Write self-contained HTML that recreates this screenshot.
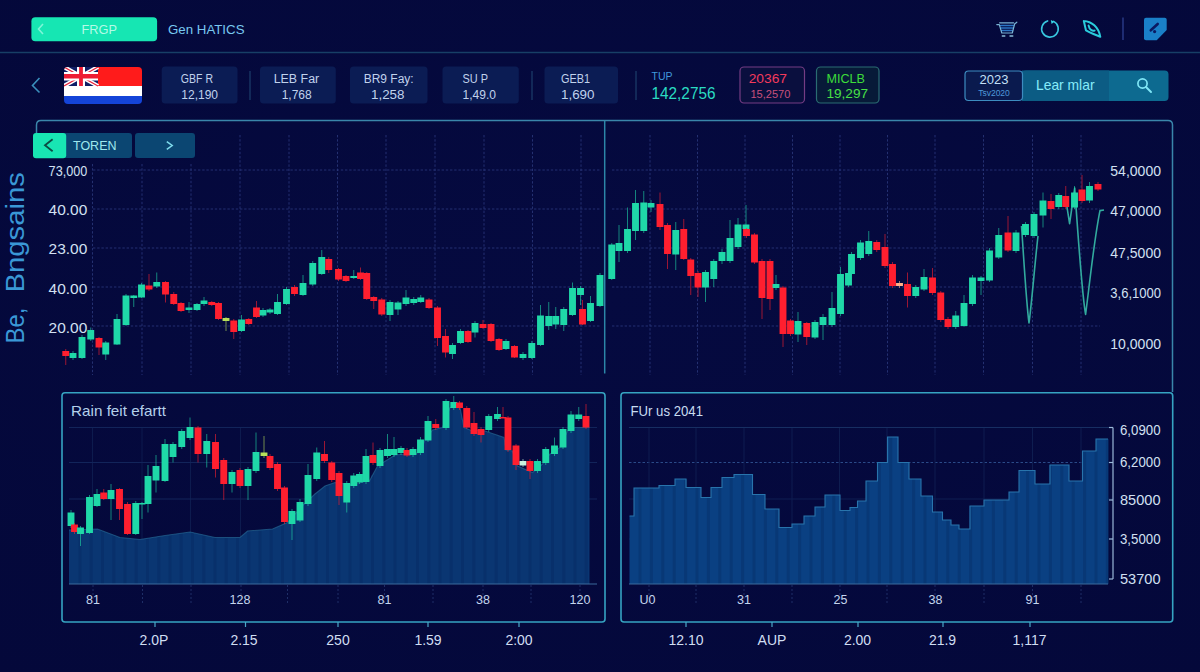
<!DOCTYPE html>
<html><head><meta charset="utf-8"><title>Trading dashboard</title>
<style>
html,body{margin:0;padding:0;background:#050a3e;}
body{width:1200px;height:672px;overflow:hidden;position:relative;font-family:"Liberation Sans",sans-serif;}
svg{position:absolute;left:0;top:0;display:block}
svg text{font-family:"Liberation Sans",sans-serif;}
</style></head><body>
<svg width="1200" height="672" viewBox="0 0 1200 672">
<defs>
<radialGradient id="bg" cx="50%" cy="45%" r="75%">
<stop offset="0" stop-color="#050a40"/><stop offset="1" stop-color="#04083a"/>
</radialGradient>
<clipPath id="flagclip"><rect x="64" y="67" width="78" height="37" rx="4"/></clipPath>
</defs>
<rect width="1200" height="672" fill="url(#bg)"/>

<!-- top bar -->
<rect x="31.4" y="17.3" width="125.7" height="24" rx="4" fill="#16e6b3"/>
<path d="M43 24 L38.5 29 L43 34" fill="none" stroke="#7ff5d8" stroke-width="1.6"/>
<text x="81.5" y="34" font-size="13" fill="#b4fae6" textLength="35.5" lengthAdjust="spacingAndGlyphs" >FRGP</text>
<text x="168" y="34" font-size="13" fill="#78c8f0" textLength="76.5" lengthAdjust="spacingAndGlyphs" >Gen HATICS</text>
<line x1="0" y1="52.5" x2="1200" y2="52.5" stroke="#173f66" stroke-width="1.3"/>

<!-- top right icons -->
<g fill="none" stroke-linecap="round" stroke-linejoin="round">
<path d="M1000.6 25.6 H1013.2 M1001.2 28.1 H1012.6 M1001.8 30.6 H1012" stroke="#2a74c4" stroke-width="1.5"/>
<path d="M996.8 24.6 L999.3 24.6 L1001.8 33 L1012.3 33 L1014.6 24 L1016.8 22.2 M999.6 22.8 L1013.6 22.8" stroke="#86c6e6" stroke-width="1.2" opacity="0.9"/>
<path d="M1002.3 36 H1004.8 M1010 36 H1012.8" stroke="#9ad2ea" stroke-width="1.4" opacity="0.9"/>
<path d="M1047.6 20.9 A8.3 8.3 0 1 0 1053.6 21.4" stroke="#38c6de" stroke-width="1.6"/>
<path d="M1050.8 20 L1054.4 21.8 L1051.6 24 Z" fill="#38d6e6" stroke="none"/>
<path d="M1083.8 20.9 C1091.5 21.2 1098.6 27 1100.3 36.8 M1083.8 20.9 L1086 30.4 C1090 32.8 1096 35 1100.3 36.8 M1088.6 25.6 C1089.4 29.4 1092 31.4 1094.6 30.6" stroke="#2accdc" stroke-width="2"/>
</g>
<line x1="1123" y1="17.5" x2="1123" y2="40" stroke="#2a3c8a" stroke-width="1.4"/>
<path d="M1146 17.7 H1164.7 Q1166.7 17.7 1166.7 19.7 V30 L1156.7 40.3 H1146 Q1144 40.3 1144 38.3 V19.7 Q1144 17.7 1146 17.7 Z" fill="#1a80c8"/>
<path d="M1157.7 24 L1150.8 30.3" stroke="#0a1a62" stroke-width="2.6" stroke-linecap="round"/>
<circle cx="1154.6" cy="31.6" r="1.6" fill="#0a1a62"/>

<!-- ticker row -->
<path d="M39.5 78 L32.5 85.5 L39.5 92.5" fill="none" stroke="#3a8fbc" stroke-width="1.6"/>
<g clip-path="url(#flagclip)">
<rect x="64" y="67" width="78" height="19" fill="#ff1b1b"/>
<rect x="64" y="86" width="78" height="10" fill="#ffffff"/>
<rect x="64" y="96" width="78" height="8" fill="#1444d8"/>
<rect x="64" y="67" width="34" height="19" fill="#101f66"/>
<path d="M64 67 L98 86 M98 67 L64 86" stroke="#ffffff" stroke-width="4.2"/>
<path d="M64 67 L98 86 M98 67 L64 86" stroke="#e8203a" stroke-width="1.2"/>
<path d="M81 67 V86" stroke="#ffffff" stroke-width="8"/><path d="M64 76.3 H98" stroke="#ffffff" stroke-width="8.4"/>
<path d="M81 67 V86" stroke="#ee1c34" stroke-width="3.8"/><path d="M64 76.3 H98" stroke="#ee1c34" stroke-width="4.6"/>
</g>
<g fill="#0b1c54">
<rect x="161.7" y="66.6" width="75.8" height="36.8" rx="3.5"/>
<rect x="260" y="66.6" width="75.8" height="36.8" rx="3.5"/>
<rect x="350" y="66.6" width="77.5" height="36.8" rx="3.5"/>
<rect x="442.5" y="66.6" width="76.3" height="36.8" rx="3.5"/>
<rect x="544.5" y="66.6" width="73.5" height="36.8" rx="3.5"/>
</g>
<g stroke="#1b3a68" stroke-width="1.3">
<line x1="250" y1="71" x2="250" y2="100"/><line x1="532" y1="71" x2="532" y2="100"/><line x1="636" y1="71" x2="636" y2="100"/>
</g>
<text x="180.8" y="82.5" font-size="12.3" fill="#c0d2ec" textLength="32.2" lengthAdjust="spacingAndGlyphs" >GBF R</text><text x="181.3" y="98.6" font-size="12.6" fill="#c0d2ec" textLength="36.7" lengthAdjust="spacingAndGlyphs" >12,190</text>
<text x="273.7" y="82.5" font-size="12.3" fill="#c0d2ec" textLength="45.5" lengthAdjust="spacingAndGlyphs" >LEB Far</text><text x="281.7" y="98.6" font-size="12.6" fill="#c0d2ec" textLength="30.0" lengthAdjust="spacingAndGlyphs" >1,768</text>
<text x="363.7" y="82.5" font-size="12.3" fill="#c0d2ec" textLength="50.0" lengthAdjust="spacingAndGlyphs" >BR9 Fay:</text><text x="371" y="98.6" font-size="12.6" fill="#c0d2ec" textLength="33.5" lengthAdjust="spacingAndGlyphs" >1,258</text>
<text x="462.5" y="82.5" font-size="12.3" fill="#c0d2ec" textLength="25.5" lengthAdjust="spacingAndGlyphs" >SU P</text><text x="462.5" y="98.6" font-size="12.6" fill="#c0d2ec" textLength="33.5" lengthAdjust="spacingAndGlyphs" >1,49.0</text>
<text x="561" y="82.5" font-size="12.3" fill="#c0d2ec" textLength="29.0" lengthAdjust="spacingAndGlyphs" >GEB1</text><text x="561" y="98.6" font-size="12.6" fill="#c0d2ec" textLength="33.5" lengthAdjust="spacingAndGlyphs" >1,690</text>
<text x="651.5" y="79.8" font-size="11.6" fill="#4098dc" textLength="21.0" lengthAdjust="spacingAndGlyphs" >TUP</text>
<text x="651.5" y="98.5" font-size="15.8" fill="#2adcc2" textLength="64.0" lengthAdjust="spacingAndGlyphs" >142,2756</text>
<rect x="740" y="67" width="64.5" height="36" rx="4" fill="#0a0f3e" stroke="#743c84" stroke-width="1.2"/>
<text x="748.7" y="82.5" font-size="12.6" fill="#f43a5c" textLength="38.3" lengthAdjust="spacingAndGlyphs" >20367</text>
<text x="750.4" y="97.5" font-size="11.6" fill="#c8507c" textLength="40.0" lengthAdjust="spacingAndGlyphs" >15,2570</text>
<rect x="816.5" y="67" width="62.5" height="36" rx="4" fill="#071a38" stroke="#2a6c72" stroke-width="1.2"/>
<text x="826.5" y="82.5" font-size="12.6" fill="#3cdc3a" textLength="38.5" lengthAdjust="spacingAndGlyphs" >MICLB</text>
<text x="826.5" y="98" font-size="12.8" fill="#48e046" textLength="41.5" lengthAdjust="spacingAndGlyphs" >19,297</text>

<!-- search group -->
<rect x="1022" y="70.5" width="146.5" height="30.5" rx="4" fill="#0d6a90"/>
<rect x="1022" y="70.5" width="87" height="30.5" fill="#0c5c84"/>
<rect x="965" y="71" width="57.5" height="29.5" rx="3.5" fill="#0a1a4e" stroke="#3d8cc0" stroke-width="1.2"/>
<text x="994" y="84" font-size="13" fill="#c4e0f8" text-anchor="middle" >2023</text>
<text x="994" y="95.5" font-size="8.5" fill="#4f98d8" text-anchor="middle" >Tsv2020</text>
<text x="1036" y="90" font-size="14.5" fill="#86ecfa" textLength="58.5" lengthAdjust="spacingAndGlyphs" >Lear mlar</text>
<circle cx="1142.5" cy="83.5" r="4.6" fill="none" stroke="#7fe6f6" stroke-width="1.7"/>
<line x1="1146" y1="87" x2="1151" y2="92" stroke="#7fe6f6" stroke-width="1.9" stroke-linecap="round"/>

<!-- main panel -->
<path d="M36.5 140 V125 Q36.5 120.5 41 120.5 H1168 Q1172.5 120.5 1172.5 125 V392" fill="none" stroke="#3a86aa" stroke-width="1.5"/>
<line x1="604.7" y1="121" x2="604.7" y2="373.5" stroke="#2c86a8" stroke-width="1.5"/>
<g stroke="#4254a0" stroke-width="0.75" stroke-dasharray="2.4 1.8" opacity="0.7">
<line x1="92.5" y1="164" x2="92.5" y2="375" />
<line x1="142" y1="164" x2="142" y2="375" />
<line x1="191" y1="164" x2="191" y2="375" />
<line x1="240" y1="135" x2="240" y2="375" />
<line x1="289" y1="135" x2="289" y2="375" />
<line x1="337.5" y1="135" x2="337.5" y2="375" />
<line x1="386" y1="135" x2="386" y2="375" />
<line x1="435" y1="135" x2="435" y2="375" />
<line x1="484" y1="135" x2="484" y2="375" />
<line x1="532.5" y1="135" x2="532.5" y2="375" />
<line x1="581" y1="135" x2="581" y2="375" />
<line x1="650" y1="135" x2="650" y2="375" />
<line x1="697.5" y1="135" x2="697.5" y2="375" />
<line x1="745" y1="135" x2="745" y2="375" />
<line x1="792.5" y1="135" x2="792.5" y2="375" />
<line x1="840" y1="135" x2="840" y2="375" />
<line x1="887.5" y1="135" x2="887.5" y2="375" />
<line x1="935" y1="135" x2="935" y2="375" />
<line x1="983.5" y1="135" x2="983.5" y2="375" />
<line x1="1032.5" y1="135" x2="1032.5" y2="375" />
<line x1="1081" y1="135" x2="1081" y2="375" />
<line x1="93" y1="170" x2="600" y2="170" />
<line x1="612" y1="170" x2="1100" y2="170" />
<line x1="93" y1="209" x2="600" y2="209" />
<line x1="612" y1="209" x2="1100" y2="209" />
<line x1="93" y1="248" x2="600" y2="248" />
<line x1="612" y1="248" x2="1100" y2="248" />
<line x1="93" y1="287" x2="600" y2="287" />
<line x1="612" y1="287" x2="1100" y2="287" />
<line x1="93" y1="326" x2="600" y2="326" />
<line x1="612" y1="326" x2="1100" y2="326" />
</g>
<!-- toggle buttons -->
<rect x="62" y="133" width="70" height="25" rx="3" fill="#0b4672"/>
<rect x="135" y="133" width="60" height="25" rx="3" fill="#0b4672"/>
<rect x="33" y="133" width="33.2" height="25.3" rx="3" fill="#18e6b3"/>
<path d="M52.6 139.3 L45 145.3 L52.6 151.3" fill="none" stroke="#0b4c44" stroke-width="1.8"/>
<text x="73" y="150" font-size="13" fill="#9fe8ee" textLength="43.5" lengthAdjust="spacingAndGlyphs" >TOREN</text>
<path d="M166.8 141.6 L172.2 145.5 L166.8 149.4" fill="none" stroke="#7fdcec" stroke-width="1.5"/>

<text transform="translate(23.6,343.5) rotate(-90)" font-size="26" fill="#3a98d6" textLength="36" lengthAdjust="spacingAndGlyphs">Be,</text>
<text transform="translate(23.6,292.6) rotate(-90)" font-size="26" fill="#3a98d6" textLength="120.5" lengthAdjust="spacingAndGlyphs">Bngsains</text>

<!-- teal indicator line -->
<path d="M1021.5 226 C1024 262 1026.5 305 1029 323 C1031.5 305 1035 262 1038 236 M1066.5 204 L1069.6 223.7 L1074.7 188 C1078 235 1082 295 1085.6 314.4 C1089.5 285 1094 240 1100 210.6 L1104 210" fill="none" stroke="#32aa9e" stroke-width="1.6" stroke-linejoin="round"/>
<line x1="65.75" y1="349" x2="65.75" y2="365" stroke="#ff1f2f" stroke-width="1" opacity="0.6"/>
<rect x="62.30" y="351" width="6.9" height="5.00" fill="#ff1f2f"/>
<line x1="73" y1="351" x2="73" y2="360" stroke="#1fd8a8" stroke-width="1" opacity="0.6"/>
<rect x="69.55" y="353" width="6.9" height="5.00" fill="#1fd8a8"/>
<line x1="82" y1="335" x2="82" y2="359" stroke="#1fd8a8" stroke-width="1" opacity="0.6"/>
<rect x="78.55" y="337" width="6.9" height="21.00" fill="#1fd8a8"/>
<line x1="90.75" y1="327.5" x2="90.75" y2="341" stroke="#1fd8a8" stroke-width="1" opacity="0.6"/>
<rect x="87.30" y="330" width="6.9" height="9.50" fill="#1fd8a8"/>
<line x1="99" y1="337" x2="99" y2="355" stroke="#ff1f2f" stroke-width="1" opacity="0.6"/>
<rect x="95.55" y="338" width="6.9" height="9.50" fill="#ff1f2f"/>
<line x1="105.75" y1="341" x2="105.75" y2="360" stroke="#1fd8a8" stroke-width="1" opacity="0.6"/>
<rect x="102.30" y="342.5" width="6.9" height="12.00" fill="#1fd8a8"/>
<line x1="117" y1="314" x2="117" y2="345" stroke="#1fd8a8" stroke-width="1" opacity="0.6"/>
<rect x="113.55" y="319" width="6.9" height="25.50" fill="#1fd8a8"/>
<line x1="126" y1="294" x2="126" y2="326" stroke="#1fd8a8" stroke-width="1" opacity="0.6"/>
<rect x="122.55" y="295.5" width="6.9" height="29.50" fill="#1fd8a8"/>
<line x1="133.75" y1="295" x2="133.75" y2="307" stroke="#1fd8a8" stroke-width="1" opacity="0.6"/>
<rect x="130.30" y="295.5" width="6.9" height="2.50" fill="#1fd8a8"/>
<line x1="141.5" y1="283" x2="141.5" y2="298" stroke="#1fd8a8" stroke-width="1" opacity="0.6"/>
<rect x="138.05" y="284.5" width="6.9" height="13.00" fill="#1fd8a8"/>
<line x1="149" y1="274" x2="149" y2="291" stroke="#ff1f2f" stroke-width="1" opacity="0.6"/>
<rect x="145.55" y="285.5" width="6.9" height="4.00" fill="#ff1f2f"/>
<line x1="156.75" y1="272.5" x2="156.75" y2="288" stroke="#1fd8a8" stroke-width="1" opacity="0.6"/>
<rect x="153.30" y="282" width="6.9" height="4.50" fill="#1fd8a8"/>
<line x1="165.5" y1="281" x2="165.5" y2="302.5" stroke="#ff1f2f" stroke-width="1" opacity="0.6"/>
<rect x="162.05" y="282" width="6.9" height="12.50" fill="#ff1f2f"/>
<line x1="173.75" y1="292" x2="173.75" y2="305" stroke="#ff1f2f" stroke-width="1" opacity="0.6"/>
<rect x="170.30" y="294" width="6.9" height="10.00" fill="#ff1f2f"/>
<line x1="181" y1="302" x2="181" y2="312" stroke="#ff1f2f" stroke-width="1" opacity="0.6"/>
<rect x="177.55" y="303" width="6.9" height="8.00" fill="#ff1f2f"/>
<line x1="189" y1="302" x2="189" y2="313" stroke="#1fd8a8" stroke-width="1" opacity="0.6"/>
<rect x="185.55" y="307.5" width="6.9" height="2.50" fill="#1fd8a8"/>
<line x1="197" y1="303" x2="197" y2="311" stroke="#1fd8a8" stroke-width="1" opacity="0.6"/>
<rect x="193.55" y="304" width="6.9" height="6.00" fill="#1fd8a8"/>
<line x1="204" y1="297" x2="204" y2="306" stroke="#1fd8a8" stroke-width="1" opacity="0.6"/>
<rect x="200.55" y="300.5" width="6.9" height="3.50" fill="#1fd8a8"/>
<line x1="211.75" y1="301" x2="211.75" y2="306" stroke="#ff1f2f" stroke-width="1" opacity="0.6"/>
<rect x="208.30" y="302" width="6.9" height="3.00" fill="#ff1f2f"/>
<line x1="218.5" y1="302" x2="218.5" y2="320" stroke="#ff1f2f" stroke-width="1" opacity="0.6"/>
<rect x="215.05" y="303" width="6.9" height="16.00" fill="#ff1f2f"/>
<line x1="226" y1="317" x2="226" y2="331" stroke="#b8e05a" stroke-width="1" opacity="0.6"/>
<rect x="222.55" y="318" width="6.9" height="3.00" fill="#b8e05a"/>
<line x1="233.75" y1="319" x2="233.75" y2="339" stroke="#ff1f2f" stroke-width="1" opacity="0.6"/>
<rect x="230.30" y="320.5" width="6.9" height="11.50" fill="#ff1f2f"/>
<line x1="241.5" y1="315" x2="241.5" y2="332" stroke="#1fd8a8" stroke-width="1" opacity="0.6"/>
<rect x="238.05" y="319.5" width="6.9" height="11.50" fill="#1fd8a8"/>
<line x1="248.75" y1="318" x2="248.75" y2="325" stroke="#ff1f2f" stroke-width="1" opacity="0.6"/>
<rect x="245.30" y="319" width="6.9" height="5.00" fill="#ff1f2f"/>
<line x1="256.5" y1="301" x2="256.5" y2="318" stroke="#ff1f2f" stroke-width="1" opacity="0.6"/>
<rect x="253.05" y="307.5" width="6.9" height="9.50" fill="#ff1f2f"/>
<line x1="263" y1="308" x2="263" y2="317" stroke="#1fd8a8" stroke-width="1" opacity="0.6"/>
<rect x="259.55" y="310" width="6.9" height="5.50" fill="#1fd8a8"/>
<line x1="270" y1="308" x2="270" y2="314" stroke="#1fd8a8" stroke-width="1" opacity="0.6"/>
<rect x="266.55" y="309.5" width="6.9" height="3.00" fill="#1fd8a8"/>
<line x1="277.5" y1="294" x2="277.5" y2="315" stroke="#1fd8a8" stroke-width="1" opacity="0.6"/>
<rect x="274.05" y="302" width="6.9" height="12.00" fill="#1fd8a8"/>
<line x1="286.5" y1="287" x2="286.5" y2="305" stroke="#1fd8a8" stroke-width="1" opacity="0.6"/>
<rect x="283.05" y="289" width="6.9" height="15.00" fill="#1fd8a8"/>
<line x1="294.5" y1="285" x2="294.5" y2="296" stroke="#ff1f2f" stroke-width="1" opacity="0.6"/>
<rect x="291.05" y="287" width="6.9" height="7.00" fill="#ff1f2f"/>
<line x1="303" y1="275" x2="303" y2="296" stroke="#1fd8a8" stroke-width="1" opacity="0.6"/>
<rect x="299.55" y="283" width="6.9" height="12.00" fill="#1fd8a8"/>
<line x1="312.75" y1="261" x2="312.75" y2="286" stroke="#1fd8a8" stroke-width="1" opacity="0.6"/>
<rect x="309.30" y="263" width="6.9" height="21.50" fill="#1fd8a8"/>
<line x1="321.75" y1="250" x2="321.75" y2="275" stroke="#1fd8a8" stroke-width="1" opacity="0.6"/>
<rect x="318.30" y="257" width="6.9" height="17.00" fill="#1fd8a8"/>
<line x1="328.75" y1="257" x2="328.75" y2="273" stroke="#ff1f2f" stroke-width="1" opacity="0.6"/>
<rect x="325.30" y="259" width="6.9" height="11.00" fill="#ff1f2f"/>
<line x1="338.5" y1="268" x2="338.5" y2="281" stroke="#ff1f2f" stroke-width="1" opacity="0.6"/>
<rect x="335.05" y="269" width="6.9" height="10.50" fill="#ff1f2f"/>
<line x1="346" y1="275" x2="346" y2="282" stroke="#ff1f2f" stroke-width="1" opacity="0.6"/>
<rect x="342.55" y="276" width="6.9" height="5.00" fill="#ff1f2f"/>
<line x1="353.75" y1="270" x2="353.75" y2="279" stroke="#1fd8a8" stroke-width="1" opacity="0.6"/>
<rect x="350.30" y="276" width="6.9" height="2.00" fill="#1fd8a8"/>
<line x1="360.5" y1="267.5" x2="360.5" y2="280" stroke="#ff1f2f" stroke-width="1" opacity="0.6"/>
<rect x="357.05" y="272.5" width="6.9" height="6.50" fill="#ff1f2f"/>
<line x1="366.75" y1="272" x2="366.75" y2="300" stroke="#ff1f2f" stroke-width="1" opacity="0.6"/>
<rect x="363.30" y="273" width="6.9" height="26.00" fill="#ff1f2f"/>
<line x1="373.75" y1="296" x2="373.75" y2="309" stroke="#ff1f2f" stroke-width="1" opacity="0.6"/>
<rect x="370.30" y="297" width="6.9" height="4.00" fill="#ff1f2f"/>
<line x1="381.75" y1="298" x2="381.75" y2="316" stroke="#ff1f2f" stroke-width="1" opacity="0.6"/>
<rect x="378.30" y="299.5" width="6.9" height="15.00" fill="#ff1f2f"/>
<line x1="390" y1="300" x2="390" y2="321" stroke="#1fd8a8" stroke-width="1" opacity="0.6"/>
<rect x="386.55" y="302" width="6.9" height="13.00" fill="#1fd8a8"/>
<line x1="398" y1="301" x2="398" y2="315" stroke="#1fd8a8" stroke-width="1" opacity="0.6"/>
<rect x="394.55" y="302.5" width="6.9" height="7.00" fill="#1fd8a8"/>
<line x1="406" y1="290" x2="406" y2="306" stroke="#1fd8a8" stroke-width="1" opacity="0.6"/>
<rect x="402.55" y="297.5" width="6.9" height="6.50" fill="#1fd8a8"/>
<line x1="413.75" y1="297" x2="413.75" y2="305" stroke="#1fd8a8" stroke-width="1" opacity="0.6"/>
<rect x="410.30" y="299" width="6.9" height="4.00" fill="#1fd8a8"/>
<line x1="420.75" y1="295" x2="420.75" y2="303" stroke="#1fd8a8" stroke-width="1" opacity="0.6"/>
<rect x="417.30" y="297.5" width="6.9" height="4.50" fill="#1fd8a8"/>
<line x1="429" y1="298" x2="429" y2="309" stroke="#ff1f2f" stroke-width="1" opacity="0.6"/>
<rect x="425.55" y="299.5" width="6.9" height="8.50" fill="#ff1f2f"/>
<line x1="437.5" y1="306" x2="437.5" y2="346" stroke="#ff1f2f" stroke-width="1" opacity="0.6"/>
<rect x="434.05" y="307.5" width="6.9" height="30.50" fill="#ff1f2f"/>
<line x1="445.5" y1="329" x2="445.5" y2="357.5" stroke="#ff1f2f" stroke-width="1" opacity="0.6"/>
<rect x="442.05" y="336" width="6.9" height="16.50" fill="#ff1f2f"/>
<line x1="452.5" y1="343" x2="452.5" y2="359" stroke="#1fd8a8" stroke-width="1" opacity="0.6"/>
<rect x="449.05" y="345" width="6.9" height="9.00" fill="#1fd8a8"/>
<line x1="460.5" y1="329" x2="460.5" y2="344" stroke="#1fd8a8" stroke-width="1" opacity="0.6"/>
<rect x="457.05" y="331" width="6.9" height="12.00" fill="#1fd8a8"/>
<line x1="468" y1="330" x2="468" y2="343" stroke="#ff1f2f" stroke-width="1" opacity="0.6"/>
<rect x="464.55" y="331" width="6.9" height="11.00" fill="#ff1f2f"/>
<line x1="475" y1="321" x2="475" y2="337.5" stroke="#1fd8a8" stroke-width="1" opacity="0.6"/>
<rect x="471.55" y="323" width="6.9" height="9.50" fill="#1fd8a8"/>
<line x1="483" y1="320" x2="483" y2="329" stroke="#ff1f2f" stroke-width="1" opacity="0.6"/>
<rect x="479.55" y="324" width="6.9" height="4.00" fill="#ff1f2f"/>
<line x1="491" y1="323" x2="491" y2="342" stroke="#ff1f2f" stroke-width="1" opacity="0.6"/>
<rect x="487.55" y="324" width="6.9" height="17.00" fill="#ff1f2f"/>
<line x1="499" y1="338" x2="499" y2="351" stroke="#ff1f2f" stroke-width="1" opacity="0.6"/>
<rect x="495.55" y="339" width="6.9" height="11.00" fill="#ff1f2f"/>
<line x1="506" y1="339" x2="506" y2="350" stroke="#1fd8a8" stroke-width="1" opacity="0.6"/>
<rect x="502.55" y="341" width="6.9" height="8.00" fill="#1fd8a8"/>
<line x1="514.5" y1="345" x2="514.5" y2="358" stroke="#ff1f2f" stroke-width="1" opacity="0.6"/>
<rect x="511.05" y="346" width="6.9" height="11.50" fill="#ff1f2f"/>
<line x1="523" y1="352" x2="523" y2="360" stroke="#1fd8a8" stroke-width="1" opacity="0.6"/>
<rect x="519.55" y="354" width="6.9" height="4.00" fill="#1fd8a8"/>
<line x1="531.75" y1="341" x2="531.75" y2="359" stroke="#1fd8a8" stroke-width="1" opacity="0.6"/>
<rect x="528.30" y="343" width="6.9" height="15.00" fill="#1fd8a8"/>
<line x1="540.5" y1="305" x2="540.5" y2="346" stroke="#1fd8a8" stroke-width="1" opacity="0.6"/>
<rect x="537.05" y="315.5" width="6.9" height="29.50" fill="#1fd8a8"/>
<line x1="548.75" y1="302" x2="548.75" y2="330" stroke="#1fd8a8" stroke-width="1" opacity="0.6"/>
<rect x="545.30" y="316" width="6.9" height="10.00" fill="#1fd8a8"/>
<line x1="555.75" y1="307" x2="555.75" y2="329" stroke="#1fd8a8" stroke-width="1" opacity="0.6"/>
<rect x="552.30" y="316" width="6.9" height="8.50" fill="#1fd8a8"/>
<line x1="563.75" y1="307" x2="563.75" y2="331" stroke="#1fd8a8" stroke-width="1" opacity="0.6"/>
<rect x="560.30" y="309" width="6.9" height="16.00" fill="#1fd8a8"/>
<line x1="572.5" y1="282.5" x2="572.5" y2="316" stroke="#1fd8a8" stroke-width="1" opacity="0.6"/>
<rect x="569.05" y="288" width="6.9" height="27.00" fill="#1fd8a8"/>
<line x1="580.5" y1="286" x2="580.5" y2="305" stroke="#1fd8a8" stroke-width="1" opacity="0.6"/>
<rect x="577.05" y="288" width="6.9" height="7.00" fill="#1fd8a8"/>
<line x1="582.5" y1="300" x2="582.5" y2="325" stroke="#ff1f2f" stroke-width="1" opacity="0.6"/>
<rect x="579.05" y="309" width="6.9" height="15.50" fill="#ff1f2f"/>
<line x1="590.5" y1="296" x2="590.5" y2="322" stroke="#1fd8a8" stroke-width="1" opacity="0.6"/>
<rect x="587.05" y="303" width="6.9" height="18.00" fill="#1fd8a8"/>
<line x1="600" y1="273" x2="600" y2="307" stroke="#1fd8a8" stroke-width="1" opacity="0.6"/>
<rect x="596.55" y="275" width="6.9" height="31.00" fill="#1fd8a8"/>
<line x1="611.75" y1="243" x2="611.75" y2="280" stroke="#1fd8a8" stroke-width="1" opacity="0.6"/>
<rect x="608.30" y="244.5" width="6.9" height="34.50" fill="#1fd8a8"/>
<line x1="619" y1="225" x2="619" y2="262" stroke="#1fd8a8" stroke-width="1" opacity="0.6"/>
<rect x="615.55" y="243" width="6.9" height="8.00" fill="#1fd8a8"/>
<line x1="627.5" y1="207.5" x2="627.5" y2="253" stroke="#1fd8a8" stroke-width="1" opacity="0.6"/>
<rect x="624.05" y="229" width="6.9" height="22.00" fill="#1fd8a8"/>
<line x1="635.5" y1="190" x2="635.5" y2="240" stroke="#1fd8a8" stroke-width="1" opacity="0.6"/>
<rect x="632.05" y="203" width="6.9" height="28.00" fill="#1fd8a8"/>
<line x1="643.75" y1="191" x2="643.75" y2="233" stroke="#1fd8a8" stroke-width="1" opacity="0.6"/>
<rect x="640.30" y="202.5" width="6.9" height="28.50" fill="#1fd8a8"/>
<line x1="651" y1="200" x2="651" y2="212" stroke="#1fd8a8" stroke-width="1" opacity="0.6"/>
<rect x="647.55" y="203" width="6.9" height="4.50" fill="#1fd8a8"/>
<line x1="660" y1="192.5" x2="660" y2="230" stroke="#ff1f2f" stroke-width="1" opacity="0.6"/>
<rect x="656.55" y="204" width="6.9" height="23.00" fill="#ff1f2f"/>
<line x1="667.5" y1="223" x2="667.5" y2="269" stroke="#ff1f2f" stroke-width="1" opacity="0.6"/>
<rect x="664.05" y="225" width="6.9" height="29.00" fill="#ff1f2f"/>
<line x1="675.75" y1="222" x2="675.75" y2="270" stroke="#1fd8a8" stroke-width="1" opacity="0.6"/>
<rect x="672.30" y="230" width="6.9" height="24.50" fill="#1fd8a8"/>
<line x1="683.75" y1="219" x2="683.75" y2="260" stroke="#ff1f2f" stroke-width="1" opacity="0.6"/>
<rect x="680.30" y="229" width="6.9" height="30.00" fill="#ff1f2f"/>
<line x1="690.75" y1="258" x2="690.75" y2="295" stroke="#ff1f2f" stroke-width="1" opacity="0.6"/>
<rect x="687.30" y="259.5" width="6.9" height="16.50" fill="#ff1f2f"/>
<line x1="698" y1="271" x2="698" y2="297" stroke="#ff1f2f" stroke-width="1" opacity="0.6"/>
<rect x="694.55" y="273" width="6.9" height="14.50" fill="#ff1f2f"/>
<line x1="705.5" y1="270" x2="705.5" y2="302" stroke="#1fd8a8" stroke-width="1" opacity="0.6"/>
<rect x="702.05" y="272" width="6.9" height="15.50" fill="#1fd8a8"/>
<line x1="713.75" y1="259" x2="713.75" y2="287" stroke="#1fd8a8" stroke-width="1" opacity="0.6"/>
<rect x="710.30" y="261" width="6.9" height="18.00" fill="#1fd8a8"/>
<line x1="722" y1="249" x2="722" y2="264" stroke="#1fd8a8" stroke-width="1" opacity="0.6"/>
<rect x="718.55" y="252" width="6.9" height="9.00" fill="#1fd8a8"/>
<line x1="730" y1="220" x2="730" y2="263" stroke="#1fd8a8" stroke-width="1" opacity="0.6"/>
<rect x="726.55" y="238" width="6.9" height="23.00" fill="#1fd8a8"/>
<line x1="738" y1="218" x2="738" y2="249" stroke="#1fd8a8" stroke-width="1" opacity="0.6"/>
<rect x="734.55" y="224.5" width="6.9" height="22.50" fill="#1fd8a8"/>
<line x1="746" y1="205" x2="746" y2="230" stroke="#1fd8a8" stroke-width="1" opacity="0.6"/>
<rect x="742.55" y="224.5" width="6.9" height="4.50" fill="#1fd8a8"/>
<line x1="746.5" y1="228" x2="746.5" y2="238" stroke="#ff1f2f" stroke-width="1" opacity="0.6"/>
<rect x="743.05" y="229" width="6.9" height="7.00" fill="#ff1f2f"/>
<line x1="754.5" y1="233" x2="754.5" y2="264" stroke="#ff1f2f" stroke-width="1" opacity="0.6"/>
<rect x="751.05" y="234.5" width="6.9" height="28.00" fill="#ff1f2f"/>
<line x1="762" y1="259" x2="762" y2="319" stroke="#ff1f2f" stroke-width="1" opacity="0.6"/>
<rect x="758.55" y="261" width="6.9" height="37.00" fill="#ff1f2f"/>
<line x1="770" y1="259" x2="770" y2="310" stroke="#ff1f2f" stroke-width="1" opacity="0.6"/>
<rect x="766.55" y="261" width="6.9" height="38.00" fill="#ff1f2f"/>
<line x1="776" y1="275" x2="776" y2="290" stroke="#1fd8a8" stroke-width="1" opacity="0.6"/>
<rect x="772.55" y="284" width="6.9" height="4.00" fill="#1fd8a8"/>
<line x1="783" y1="286" x2="783" y2="347" stroke="#ff1f2f" stroke-width="1" opacity="0.6"/>
<rect x="779.55" y="287.5" width="6.9" height="46.50" fill="#ff1f2f"/>
<line x1="790.5" y1="319" x2="790.5" y2="336" stroke="#ff1f2f" stroke-width="1" opacity="0.6"/>
<rect x="787.05" y="320.5" width="6.9" height="13.50" fill="#ff1f2f"/>
<line x1="798" y1="312" x2="798" y2="342" stroke="#1fd8a8" stroke-width="1" opacity="0.6"/>
<rect x="794.55" y="321" width="6.9" height="13.50" fill="#1fd8a8"/>
<line x1="806.75" y1="322" x2="806.75" y2="345" stroke="#ff1f2f" stroke-width="1" opacity="0.6"/>
<rect x="803.30" y="323" width="6.9" height="14.00" fill="#ff1f2f"/>
<line x1="815" y1="320" x2="815" y2="339" stroke="#1fd8a8" stroke-width="1" opacity="0.6"/>
<rect x="811.55" y="322" width="6.9" height="15.50" fill="#1fd8a8"/>
<line x1="823" y1="314" x2="823" y2="340" stroke="#1fd8a8" stroke-width="1" opacity="0.6"/>
<rect x="819.55" y="317" width="6.9" height="8.00" fill="#1fd8a8"/>
<line x1="832" y1="292" x2="832" y2="327" stroke="#1fd8a8" stroke-width="1" opacity="0.6"/>
<rect x="828.55" y="308" width="6.9" height="17.00" fill="#1fd8a8"/>
<line x1="840.5" y1="267" x2="840.5" y2="316" stroke="#1fd8a8" stroke-width="1" opacity="0.6"/>
<rect x="837.05" y="274" width="6.9" height="40.00" fill="#1fd8a8"/>
<line x1="848.5" y1="271" x2="848.5" y2="287" stroke="#1fd8a8" stroke-width="1" opacity="0.6"/>
<rect x="845.05" y="273" width="6.9" height="12.50" fill="#1fd8a8"/>
<line x1="851.5" y1="252" x2="851.5" y2="275" stroke="#1fd8a8" stroke-width="1" opacity="0.6"/>
<rect x="848.05" y="254" width="6.9" height="20.00" fill="#1fd8a8"/>
<line x1="860.5" y1="240" x2="860.5" y2="260" stroke="#1fd8a8" stroke-width="1" opacity="0.6"/>
<rect x="857.05" y="242.5" width="6.9" height="15.50" fill="#1fd8a8"/>
<line x1="868.75" y1="231" x2="868.75" y2="256" stroke="#1fd8a8" stroke-width="1" opacity="0.6"/>
<rect x="865.30" y="241" width="6.9" height="13.00" fill="#1fd8a8"/>
<line x1="876.75" y1="240" x2="876.75" y2="252" stroke="#ff1f2f" stroke-width="1" opacity="0.6"/>
<rect x="873.30" y="242" width="6.9" height="8.00" fill="#ff1f2f"/>
<line x1="885" y1="234" x2="885" y2="268" stroke="#ff1f2f" stroke-width="1" opacity="0.6"/>
<rect x="881.55" y="247" width="6.9" height="19.00" fill="#ff1f2f"/>
<line x1="892.5" y1="262" x2="892.5" y2="288" stroke="#ff1f2f" stroke-width="1" opacity="0.6"/>
<rect x="889.05" y="264" width="6.9" height="22.00" fill="#ff1f2f"/>
<line x1="899.5" y1="281" x2="899.5" y2="288" stroke="#ffb08a" stroke-width="1" opacity="0.6"/>
<rect x="896.05" y="283" width="6.9" height="3.00" fill="#ffb08a"/>
<line x1="907.5" y1="272.5" x2="907.5" y2="307.5" stroke="#ff1f2f" stroke-width="1" opacity="0.6"/>
<rect x="904.05" y="284" width="6.9" height="12.00" fill="#ff1f2f"/>
<line x1="915.75" y1="285" x2="915.75" y2="298" stroke="#1fd8a8" stroke-width="1" opacity="0.6"/>
<rect x="912.30" y="287" width="6.9" height="9.00" fill="#1fd8a8"/>
<line x1="924" y1="269" x2="924" y2="291" stroke="#1fd8a8" stroke-width="1" opacity="0.6"/>
<rect x="920.55" y="277" width="6.9" height="12.50" fill="#1fd8a8"/>
<line x1="932.5" y1="268" x2="932.5" y2="295" stroke="#ff1f2f" stroke-width="1" opacity="0.6"/>
<rect x="929.05" y="277.5" width="6.9" height="15.50" fill="#ff1f2f"/>
<line x1="940.75" y1="291" x2="940.75" y2="322" stroke="#ff1f2f" stroke-width="1" opacity="0.6"/>
<rect x="937.30" y="292.5" width="6.9" height="27.50" fill="#ff1f2f"/>
<line x1="948" y1="317" x2="948" y2="329" stroke="#ff1f2f" stroke-width="1" opacity="0.6"/>
<rect x="944.55" y="319" width="6.9" height="8.00" fill="#ff1f2f"/>
<line x1="955.75" y1="311" x2="955.75" y2="329" stroke="#1fd8a8" stroke-width="1" opacity="0.6"/>
<rect x="952.30" y="315.5" width="6.9" height="11.50" fill="#1fd8a8"/>
<line x1="964" y1="295" x2="964" y2="327" stroke="#1fd8a8" stroke-width="1" opacity="0.6"/>
<rect x="960.55" y="303" width="6.9" height="23.00" fill="#1fd8a8"/>
<line x1="972.5" y1="275" x2="972.5" y2="306" stroke="#1fd8a8" stroke-width="1" opacity="0.6"/>
<rect x="969.05" y="277.5" width="6.9" height="26.50" fill="#1fd8a8"/>
<line x1="981" y1="276" x2="981" y2="295" stroke="#1fd8a8" stroke-width="1" opacity="0.6"/>
<rect x="977.55" y="277.5" width="6.9" height="3.50" fill="#1fd8a8"/>
<line x1="989.5" y1="248" x2="989.5" y2="282" stroke="#1fd8a8" stroke-width="1" opacity="0.6"/>
<rect x="986.05" y="250.5" width="6.9" height="30.00" fill="#1fd8a8"/>
<line x1="998.75" y1="228" x2="998.75" y2="259" stroke="#1fd8a8" stroke-width="1" opacity="0.6"/>
<rect x="995.30" y="235" width="6.9" height="22.50" fill="#1fd8a8"/>
<line x1="1008" y1="216" x2="1008" y2="252" stroke="#ff1f2f" stroke-width="1" opacity="0.6"/>
<rect x="1004.55" y="232.5" width="6.9" height="18.00" fill="#ff1f2f"/>
<line x1="1016" y1="230" x2="1016" y2="253" stroke="#1fd8a8" stroke-width="1" opacity="0.6"/>
<rect x="1012.55" y="232.5" width="6.9" height="18.50" fill="#1fd8a8"/>
<line x1="1025.5" y1="222" x2="1025.5" y2="237" stroke="#1fd8a8" stroke-width="1" opacity="0.6"/>
<rect x="1022.05" y="224" width="6.9" height="11.00" fill="#1fd8a8"/>
<line x1="1034" y1="212" x2="1034" y2="238" stroke="#1fd8a8" stroke-width="1" opacity="0.6"/>
<rect x="1030.55" y="214" width="6.9" height="22.00" fill="#1fd8a8"/>
<line x1="1043" y1="192.5" x2="1043" y2="227.5" stroke="#1fd8a8" stroke-width="1" opacity="0.6"/>
<rect x="1039.55" y="200.5" width="6.9" height="15.00" fill="#1fd8a8"/>
<line x1="1051" y1="194" x2="1051" y2="219" stroke="#ff1f2f" stroke-width="1" opacity="0.6"/>
<rect x="1047.55" y="201" width="6.9" height="8.00" fill="#ff1f2f"/>
<line x1="1058.75" y1="193" x2="1058.75" y2="209" stroke="#1fd8a8" stroke-width="1" opacity="0.6"/>
<rect x="1055.30" y="195" width="6.9" height="12.00" fill="#1fd8a8"/>
<line x1="1065.75" y1="186" x2="1065.75" y2="209" stroke="#ff1f2f" stroke-width="1" opacity="0.6"/>
<rect x="1062.30" y="196" width="6.9" height="11.00" fill="#ff1f2f"/>
<line x1="1074.5" y1="186" x2="1074.5" y2="209" stroke="#1fd8a8" stroke-width="1" opacity="0.6"/>
<rect x="1071.05" y="192.5" width="6.9" height="15.00" fill="#1fd8a8"/>
<line x1="1082" y1="175" x2="1082" y2="203" stroke="#ff1f2f" stroke-width="1" opacity="0.6"/>
<rect x="1078.55" y="189.5" width="6.9" height="11.50" fill="#ff1f2f"/>
<line x1="1089.5" y1="182" x2="1089.5" y2="203" stroke="#1fd8a8" stroke-width="1" opacity="0.6"/>
<rect x="1086.05" y="186" width="6.9" height="14.50" fill="#1fd8a8"/>
<line x1="1098" y1="182" x2="1098" y2="191" stroke="#ff1f2f" stroke-width="1" opacity="0.6"/>
<rect x="1094.55" y="184" width="6.9" height="5.50" fill="#ff1f2f"/>

<!-- bottom-left panel -->
<rect x="62" y="392.8" width="543" height="229.2" rx="3" fill="none" stroke="#36a4c2" stroke-width="1.6"/>
<g stroke="#0d1b4e" stroke-width="1">
<line x1="92.5" y1="428" x2="92.5" y2="584"/><line x1="142" y1="428" x2="142" y2="584"/><line x1="190.5" y1="428" x2="190.5" y2="584"/><line x1="240.5" y1="428" x2="240.5" y2="584"/>
</g>
<g stroke="#12245a" stroke-width="1">
<line x1="69" y1="427.5" x2="597" y2="427.5"/><line x1="69" y1="462.5" x2="597" y2="462.5"/><line x1="69" y1="499" x2="597" y2="499"/>
</g>
<path d="M69,530 L97.5,529 L120,537.5 L140,539.5 L165,535.5 L190,532 L215,537.5 L240,537.5 L247.5,531 L272.5,529 L287.5,522.5 L302,506 L315,494 L325,486 L335,482.5 L352.5,485 L370,480 L377.5,466 L395,455 L420,452.5 L425,440 L432.5,430 L442.5,427.5 L450,407.5 L460,407.5 L464,427.5 L470,430 L485,431 L504,437.5 L506,450 L512.5,451 L517.5,466 L532.5,472.5 L542.5,464 L550,454 L560,447.5 L567.5,431 L575,427.5 L589.5,427.5 L589.5,584 L69,584 Z" fill="#0a3672"/>
<line x1="80.0" y1="529.6" x2="80.0" y2="584" stroke="#072c66" stroke-width="3" opacity="0.55"/>
<line x1="91.2" y1="529.2" x2="91.2" y2="584" stroke="#072c66" stroke-width="3" opacity="0.55"/>
<line x1="102.5" y1="530.9" x2="102.5" y2="584" stroke="#072c66" stroke-width="3" opacity="0.55"/>
<line x1="113.8" y1="535.1" x2="113.8" y2="584" stroke="#072c66" stroke-width="3" opacity="0.55"/>
<line x1="125.0" y1="538.0" x2="125.0" y2="584" stroke="#072c66" stroke-width="3" opacity="0.55"/>
<line x1="136.2" y1="539.1" x2="136.2" y2="584" stroke="#072c66" stroke-width="3" opacity="0.55"/>
<line x1="147.5" y1="538.3" x2="147.5" y2="584" stroke="#072c66" stroke-width="3" opacity="0.55"/>
<line x1="158.8" y1="536.5" x2="158.8" y2="584" stroke="#072c66" stroke-width="3" opacity="0.55"/>
<line x1="170.0" y1="534.8" x2="170.0" y2="584" stroke="#072c66" stroke-width="3" opacity="0.55"/>
<line x1="181.2" y1="533.2" x2="181.2" y2="584" stroke="#072c66" stroke-width="3" opacity="0.55"/>
<line x1="192.5" y1="532.5" x2="192.5" y2="584" stroke="#072c66" stroke-width="3" opacity="0.55"/>
<line x1="203.8" y1="535.0" x2="203.8" y2="584" stroke="#072c66" stroke-width="3" opacity="0.55"/>
<line x1="215.0" y1="537.5" x2="215.0" y2="584" stroke="#072c66" stroke-width="3" opacity="0.55"/>
<line x1="226.2" y1="537.5" x2="226.2" y2="584" stroke="#072c66" stroke-width="3" opacity="0.55"/>
<line x1="237.5" y1="537.5" x2="237.5" y2="584" stroke="#072c66" stroke-width="3" opacity="0.55"/>
<line x1="248.8" y1="530.9" x2="248.8" y2="584" stroke="#072c66" stroke-width="3" opacity="0.55"/>
<line x1="260.0" y1="530.0" x2="260.0" y2="584" stroke="#072c66" stroke-width="3" opacity="0.55"/>
<line x1="271.2" y1="529.1" x2="271.2" y2="584" stroke="#072c66" stroke-width="3" opacity="0.55"/>
<line x1="282.5" y1="524.7" x2="282.5" y2="584" stroke="#072c66" stroke-width="3" opacity="0.55"/>
<line x1="293.8" y1="515.4" x2="293.8" y2="584" stroke="#072c66" stroke-width="3" opacity="0.55"/>
<line x1="305.0" y1="503.2" x2="305.0" y2="584" stroke="#072c66" stroke-width="3" opacity="0.55"/>
<line x1="316.2" y1="493.0" x2="316.2" y2="584" stroke="#072c66" stroke-width="3" opacity="0.55"/>
<line x1="327.5" y1="485.1" x2="327.5" y2="584" stroke="#072c66" stroke-width="3" opacity="0.55"/>
<line x1="338.8" y1="483.0" x2="338.8" y2="584" stroke="#072c66" stroke-width="3" opacity="0.55"/>
<line x1="350.0" y1="484.6" x2="350.0" y2="584" stroke="#072c66" stroke-width="3" opacity="0.55"/>
<line x1="361.2" y1="482.5" x2="361.2" y2="584" stroke="#072c66" stroke-width="3" opacity="0.55"/>
<line x1="372.5" y1="475.3" x2="372.5" y2="584" stroke="#072c66" stroke-width="3" opacity="0.55"/>
<line x1="383.8" y1="462.1" x2="383.8" y2="584" stroke="#072c66" stroke-width="3" opacity="0.55"/>
<line x1="395.0" y1="455.0" x2="395.0" y2="584" stroke="#072c66" stroke-width="3" opacity="0.55"/>
<line x1="406.2" y1="453.9" x2="406.2" y2="584" stroke="#072c66" stroke-width="3" opacity="0.55"/>
<line x1="417.5" y1="452.8" x2="417.5" y2="584" stroke="#072c66" stroke-width="3" opacity="0.55"/>
<line x1="428.8" y1="435.0" x2="428.8" y2="584" stroke="#072c66" stroke-width="3" opacity="0.55"/>
<line x1="440.0" y1="428.1" x2="440.0" y2="584" stroke="#072c66" stroke-width="3" opacity="0.55"/>
<line x1="451.2" y1="407.5" x2="451.2" y2="584" stroke="#072c66" stroke-width="3" opacity="0.55"/>
<line x1="462.5" y1="420.0" x2="462.5" y2="584" stroke="#072c66" stroke-width="3" opacity="0.55"/>
<line x1="473.8" y1="430.2" x2="473.8" y2="584" stroke="#072c66" stroke-width="3" opacity="0.55"/>
<line x1="485.0" y1="431.0" x2="485.0" y2="584" stroke="#072c66" stroke-width="3" opacity="0.55"/>
<line x1="496.2" y1="434.8" x2="496.2" y2="584" stroke="#072c66" stroke-width="3" opacity="0.55"/>
<line x1="507.5" y1="450.2" x2="507.5" y2="584" stroke="#072c66" stroke-width="3" opacity="0.55"/>
<line x1="518.8" y1="466.5" x2="518.8" y2="584" stroke="#072c66" stroke-width="3" opacity="0.55"/>
<line x1="530.0" y1="471.4" x2="530.0" y2="584" stroke="#072c66" stroke-width="3" opacity="0.55"/>
<line x1="541.2" y1="465.1" x2="541.2" y2="584" stroke="#072c66" stroke-width="3" opacity="0.55"/>
<line x1="552.5" y1="452.4" x2="552.5" y2="584" stroke="#072c66" stroke-width="3" opacity="0.55"/>
<line x1="563.8" y1="439.2" x2="563.8" y2="584" stroke="#072c66" stroke-width="3" opacity="0.55"/>
<line x1="575.0" y1="427.5" x2="575.0" y2="584" stroke="#072c66" stroke-width="3" opacity="0.55"/>
<line x1="586.2" y1="427.5" x2="586.2" y2="584" stroke="#072c66" stroke-width="3" opacity="0.55"/>
<path d="M69,530 L97.5,529 L120,537.5 L140,539.5 L165,535.5 L190,532 L215,537.5 L240,537.5 L247.5,531 L272.5,529 L287.5,522.5 L302,506 L315,494 L325,486 L335,482.5 L352.5,485 L370,480 L377.5,466 L395,455 L420,452.5 L425,440 L432.5,430 L442.5,427.5 L450,407.5 L460,407.5 L464,427.5 L470,430 L485,431 L504,437.5 L506,450 L512.5,451 L517.5,466 L532.5,472.5 L542.5,464 L550,454 L560,447.5 L567.5,431 L575,427.5 L589.5,427.5" fill="none" stroke="#2a6f9a" stroke-width="1.1" opacity="0.6"/>
<line x1="69" y1="584" x2="597" y2="584" stroke="#3a6a9c" stroke-width="1.2"/>
<line x1="71" y1="510" x2="71" y2="528" stroke="#1fd8a8" stroke-width="1" opacity="0.6"/>
<rect x="67.55" y="512.5" width="6.9" height="13.50" fill="#1fd8a8"/>
<line x1="74.5" y1="523" x2="74.5" y2="534" stroke="#ff1f2f" stroke-width="1" opacity="0.6"/>
<rect x="71.05" y="524.5" width="6.9" height="7.50" fill="#ff1f2f"/>
<line x1="80.5" y1="526" x2="80.5" y2="546" stroke="#1fd8a8" stroke-width="1" opacity="0.6"/>
<rect x="77.05" y="527.5" width="6.9" height="6.50" fill="#1fd8a8"/>
<line x1="89.5" y1="495" x2="89.5" y2="534" stroke="#1fd8a8" stroke-width="1" opacity="0.6"/>
<rect x="86.05" y="497" width="6.9" height="36.00" fill="#1fd8a8"/>
<line x1="97" y1="489" x2="97" y2="507" stroke="#1fd8a8" stroke-width="1" opacity="0.6"/>
<rect x="93.55" y="494" width="6.9" height="12.00" fill="#1fd8a8"/>
<line x1="103.75" y1="489" x2="103.75" y2="500" stroke="#ff1f2f" stroke-width="1" opacity="0.6"/>
<rect x="100.30" y="492.5" width="6.9" height="6.50" fill="#ff1f2f"/>
<line x1="111" y1="484" x2="111" y2="520" stroke="#1fd8a8" stroke-width="1" opacity="0.6"/>
<rect x="107.55" y="490" width="6.9" height="9.00" fill="#1fd8a8"/>
<line x1="119.5" y1="488" x2="119.5" y2="520" stroke="#ff1f2f" stroke-width="1" opacity="0.6"/>
<rect x="116.05" y="489" width="6.9" height="20.00" fill="#ff1f2f"/>
<line x1="127.5" y1="502" x2="127.5" y2="535" stroke="#ff1f2f" stroke-width="1" opacity="0.6"/>
<rect x="124.05" y="504" width="6.9" height="30.00" fill="#ff1f2f"/>
<line x1="135.75" y1="501" x2="135.75" y2="535" stroke="#1fd8a8" stroke-width="1" opacity="0.6"/>
<rect x="132.30" y="503" width="6.9" height="31.00" fill="#1fd8a8"/>
<line x1="142" y1="502" x2="142" y2="519" stroke="#1fd8a8" stroke-width="1" opacity="0.6"/>
<rect x="138.55" y="503" width="6.9" height="1.50" fill="#1fd8a8"/>
<line x1="148" y1="465" x2="148" y2="512.5" stroke="#1fd8a8" stroke-width="1" opacity="0.6"/>
<rect x="144.55" y="476" width="6.9" height="28.00" fill="#1fd8a8"/>
<line x1="156" y1="455" x2="156" y2="492.5" stroke="#1fd8a8" stroke-width="1" opacity="0.6"/>
<rect x="152.55" y="466" width="6.9" height="14.50" fill="#1fd8a8"/>
<line x1="165" y1="439" x2="165" y2="482" stroke="#1fd8a8" stroke-width="1" opacity="0.6"/>
<rect x="161.55" y="444" width="6.9" height="37.00" fill="#1fd8a8"/>
<line x1="173" y1="442" x2="173" y2="462.5" stroke="#1fd8a8" stroke-width="1" opacity="0.6"/>
<rect x="169.55" y="444" width="6.9" height="13.00" fill="#1fd8a8"/>
<line x1="181.75" y1="429" x2="181.75" y2="449" stroke="#1fd8a8" stroke-width="1" opacity="0.6"/>
<rect x="178.30" y="431" width="6.9" height="16.00" fill="#1fd8a8"/>
<line x1="190" y1="417.5" x2="190" y2="440" stroke="#1fd8a8" stroke-width="1" opacity="0.6"/>
<rect x="186.55" y="427" width="6.9" height="11.00" fill="#1fd8a8"/>
<line x1="198" y1="426" x2="198" y2="462.5" stroke="#ff1f2f" stroke-width="1" opacity="0.6"/>
<rect x="194.55" y="427.5" width="6.9" height="26.50" fill="#ff1f2f"/>
<line x1="206.75" y1="434" x2="206.75" y2="467.5" stroke="#1fd8a8" stroke-width="1" opacity="0.6"/>
<rect x="203.30" y="441" width="6.9" height="13.00" fill="#1fd8a8"/>
<line x1="215.5" y1="434" x2="215.5" y2="477.5" stroke="#ff1f2f" stroke-width="1" opacity="0.6"/>
<rect x="212.05" y="442" width="6.9" height="27.00" fill="#ff1f2f"/>
<line x1="223.75" y1="458" x2="223.75" y2="500" stroke="#ff1f2f" stroke-width="1" opacity="0.6"/>
<rect x="220.30" y="460" width="6.9" height="24.00" fill="#ff1f2f"/>
<line x1="232" y1="470" x2="232" y2="492.5" stroke="#1fd8a8" stroke-width="1" opacity="0.6"/>
<rect x="228.55" y="472" width="6.9" height="12.00" fill="#1fd8a8"/>
<line x1="240" y1="468" x2="240" y2="488" stroke="#ff1f2f" stroke-width="1" opacity="0.6"/>
<rect x="236.55" y="470" width="6.9" height="16.00" fill="#ff1f2f"/>
<line x1="248" y1="467" x2="248" y2="500" stroke="#1fd8a8" stroke-width="1" opacity="0.6"/>
<rect x="244.55" y="469" width="6.9" height="17.00" fill="#1fd8a8"/>
<line x1="256" y1="432.5" x2="256" y2="473" stroke="#1fd8a8" stroke-width="1" opacity="0.6"/>
<rect x="252.55" y="452" width="6.9" height="19.00" fill="#1fd8a8"/>
<line x1="264" y1="436" x2="264" y2="458" stroke="#b8e05a" stroke-width="1" opacity="0.6"/>
<rect x="260.55" y="452.5" width="6.9" height="3.50" fill="#b8e05a"/>
<line x1="270" y1="454" x2="270" y2="470" stroke="#ff1f2f" stroke-width="1" opacity="0.6"/>
<rect x="266.55" y="456" width="6.9" height="12.00" fill="#ff1f2f"/>
<line x1="277.5" y1="462" x2="277.5" y2="491" stroke="#ff1f2f" stroke-width="1" opacity="0.6"/>
<rect x="274.05" y="464" width="6.9" height="25.00" fill="#ff1f2f"/>
<line x1="284.5" y1="486" x2="284.5" y2="524" stroke="#ff1f2f" stroke-width="1" opacity="0.6"/>
<rect x="281.05" y="487.5" width="6.9" height="34.50" fill="#ff1f2f"/>
<line x1="292" y1="509" x2="292" y2="540" stroke="#1fd8a8" stroke-width="1" opacity="0.6"/>
<rect x="288.55" y="511" width="6.9" height="13.00" fill="#1fd8a8"/>
<line x1="300" y1="499" x2="300" y2="522" stroke="#1fd8a8" stroke-width="1" opacity="0.6"/>
<rect x="296.55" y="502" width="6.9" height="18.50" fill="#1fd8a8"/>
<line x1="308" y1="464" x2="308" y2="506" stroke="#1fd8a8" stroke-width="1" opacity="0.6"/>
<rect x="304.55" y="475" width="6.9" height="29.00" fill="#1fd8a8"/>
<line x1="316.75" y1="447.5" x2="316.75" y2="481" stroke="#1fd8a8" stroke-width="1" opacity="0.6"/>
<rect x="313.30" y="452.5" width="6.9" height="26.50" fill="#1fd8a8"/>
<line x1="324.5" y1="441" x2="324.5" y2="463" stroke="#ff1f2f" stroke-width="1" opacity="0.6"/>
<rect x="321.05" y="454" width="6.9" height="7.00" fill="#ff1f2f"/>
<line x1="331.75" y1="461" x2="331.75" y2="482" stroke="#ff1f2f" stroke-width="1" opacity="0.6"/>
<rect x="328.30" y="462.5" width="6.9" height="17.50" fill="#ff1f2f"/>
<line x1="339" y1="471" x2="339" y2="505" stroke="#ff1f2f" stroke-width="1" opacity="0.6"/>
<rect x="335.55" y="473" width="6.9" height="23.00" fill="#ff1f2f"/>
<line x1="346.75" y1="481" x2="346.75" y2="512.5" stroke="#1fd8a8" stroke-width="1" opacity="0.6"/>
<rect x="343.30" y="483" width="6.9" height="19.50" fill="#1fd8a8"/>
<line x1="353.75" y1="473" x2="353.75" y2="488" stroke="#1fd8a8" stroke-width="1" opacity="0.6"/>
<rect x="350.30" y="475.5" width="6.9" height="10.50" fill="#1fd8a8"/>
<line x1="359.5" y1="472" x2="359.5" y2="484" stroke="#1fd8a8" stroke-width="1" opacity="0.6"/>
<rect x="356.05" y="474" width="6.9" height="8.50" fill="#1fd8a8"/>
<line x1="366" y1="449" x2="366" y2="484" stroke="#1fd8a8" stroke-width="1" opacity="0.6"/>
<rect x="362.55" y="456" width="6.9" height="26.00" fill="#1fd8a8"/>
<line x1="373" y1="442.5" x2="373" y2="465" stroke="#ff1f2f" stroke-width="1" opacity="0.6"/>
<rect x="369.55" y="455" width="6.9" height="8.00" fill="#ff1f2f"/>
<line x1="380" y1="448" x2="380" y2="468" stroke="#1fd8a8" stroke-width="1" opacity="0.6"/>
<rect x="376.55" y="450" width="6.9" height="16.00" fill="#1fd8a8"/>
<line x1="387.5" y1="434" x2="387.5" y2="458" stroke="#1fd8a8" stroke-width="1" opacity="0.6"/>
<rect x="384.05" y="449" width="6.9" height="7.00" fill="#1fd8a8"/>
<line x1="394" y1="437" x2="394" y2="457" stroke="#1fd8a8" stroke-width="1" opacity="0.6"/>
<rect x="390.55" y="449" width="6.9" height="6.00" fill="#1fd8a8"/>
<line x1="401" y1="446" x2="401" y2="455" stroke="#1fd8a8" stroke-width="1" opacity="0.6"/>
<rect x="397.55" y="448" width="6.9" height="5.00" fill="#1fd8a8"/>
<line x1="407" y1="448" x2="407" y2="457" stroke="#ff1f2f" stroke-width="1" opacity="0.6"/>
<rect x="403.55" y="450" width="6.9" height="5.50" fill="#ff1f2f"/>
<line x1="413" y1="447" x2="413" y2="457" stroke="#1fd8a8" stroke-width="1" opacity="0.6"/>
<rect x="409.55" y="449" width="6.9" height="6.00" fill="#1fd8a8"/>
<line x1="420.5" y1="437" x2="420.5" y2="455" stroke="#1fd8a8" stroke-width="1" opacity="0.6"/>
<rect x="417.05" y="439.5" width="6.9" height="13.50" fill="#1fd8a8"/>
<line x1="428" y1="416" x2="428" y2="442" stroke="#1fd8a8" stroke-width="1" opacity="0.6"/>
<rect x="424.55" y="421" width="6.9" height="19.50" fill="#1fd8a8"/>
<line x1="435.75" y1="419" x2="435.75" y2="430" stroke="#ff1f2f" stroke-width="1" opacity="0.6"/>
<rect x="432.30" y="424" width="6.9" height="4.00" fill="#ff1f2f"/>
<line x1="446" y1="399" x2="446" y2="430" stroke="#1fd8a8" stroke-width="1" opacity="0.6"/>
<rect x="442.55" y="401" width="6.9" height="27.00" fill="#1fd8a8"/>
<line x1="453.75" y1="396" x2="453.75" y2="410" stroke="#1fd8a8" stroke-width="1" opacity="0.6"/>
<rect x="450.30" y="402" width="6.9" height="6.00" fill="#1fd8a8"/>
<line x1="459.5" y1="401" x2="459.5" y2="410" stroke="#ff1f2f" stroke-width="1" opacity="0.6"/>
<rect x="456.05" y="402.5" width="6.9" height="5.50" fill="#ff1f2f"/>
<line x1="466.75" y1="406" x2="466.75" y2="429" stroke="#ff1f2f" stroke-width="1" opacity="0.6"/>
<rect x="463.30" y="408" width="6.9" height="19.50" fill="#ff1f2f"/>
<line x1="474" y1="412" x2="474" y2="436" stroke="#ff1f2f" stroke-width="1" opacity="0.6"/>
<rect x="470.55" y="423" width="6.9" height="11.00" fill="#ff1f2f"/>
<line x1="481" y1="427" x2="481" y2="442.5" stroke="#ff1f2f" stroke-width="1" opacity="0.6"/>
<rect x="477.55" y="429" width="6.9" height="6.00" fill="#ff1f2f"/>
<line x1="488.75" y1="414" x2="488.75" y2="432" stroke="#1fd8a8" stroke-width="1" opacity="0.6"/>
<rect x="485.30" y="416" width="6.9" height="14.00" fill="#1fd8a8"/>
<line x1="497.5" y1="407" x2="497.5" y2="421" stroke="#1fd8a8" stroke-width="1" opacity="0.6"/>
<rect x="494.05" y="414" width="6.9" height="5.00" fill="#1fd8a8"/>
<line x1="503" y1="407" x2="503" y2="418" stroke="#ff1f2f" stroke-width="1" opacity="0.6"/>
<rect x="499.55" y="417" width="6.9" height="1.50" fill="#ff1f2f"/>
<line x1="508" y1="416" x2="508" y2="452" stroke="#ff1f2f" stroke-width="1" opacity="0.6"/>
<rect x="504.55" y="417.5" width="6.9" height="32.50" fill="#ff1f2f"/>
<line x1="516" y1="444" x2="516" y2="470" stroke="#ff1f2f" stroke-width="1" opacity="0.6"/>
<rect x="512.55" y="445.5" width="6.9" height="19.50" fill="#ff1f2f"/>
<line x1="523" y1="459" x2="523" y2="467" stroke="#c8f0e0" stroke-width="1" opacity="0.6"/>
<rect x="519.55" y="461" width="6.9" height="4.50" fill="#c8f0e0"/>
<line x1="530" y1="459" x2="530" y2="479" stroke="#ff1f2f" stroke-width="1" opacity="0.6"/>
<rect x="526.55" y="461" width="6.9" height="10.00" fill="#ff1f2f"/>
<line x1="537.5" y1="459" x2="537.5" y2="473" stroke="#1fd8a8" stroke-width="1" opacity="0.6"/>
<rect x="534.05" y="461" width="6.9" height="10.00" fill="#1fd8a8"/>
<line x1="545.75" y1="447" x2="545.75" y2="465" stroke="#1fd8a8" stroke-width="1" opacity="0.6"/>
<rect x="542.30" y="449" width="6.9" height="14.00" fill="#1fd8a8"/>
<line x1="554.5" y1="437.5" x2="554.5" y2="456" stroke="#1fd8a8" stroke-width="1" opacity="0.6"/>
<rect x="551.05" y="445.5" width="6.9" height="8.50" fill="#1fd8a8"/>
<line x1="563" y1="427" x2="563" y2="449" stroke="#1fd8a8" stroke-width="1" opacity="0.6"/>
<rect x="559.55" y="429" width="6.9" height="18.50" fill="#1fd8a8"/>
<line x1="571" y1="411" x2="571" y2="433" stroke="#1fd8a8" stroke-width="1" opacity="0.6"/>
<rect x="567.55" y="414.5" width="6.9" height="16.50" fill="#1fd8a8"/>
<line x1="578.75" y1="407" x2="578.75" y2="421" stroke="#1fd8a8" stroke-width="1" opacity="0.6"/>
<rect x="575.30" y="414.5" width="6.9" height="4.50" fill="#1fd8a8"/>
<line x1="586" y1="404" x2="586" y2="429" stroke="#ff1f2f" stroke-width="1" opacity="0.6"/>
<rect x="582.55" y="416" width="6.9" height="11.50" fill="#ff1f2f"/>
<text x="71" y="415.6" font-size="14.5" fill="#b4d0ea" textLength="95.0" lengthAdjust="spacingAndGlyphs" >Rain feit efartt</text>

<!-- bottom-right panel -->
<rect x="621" y="392.8" width="551.7" height="229.2" rx="3" fill="none" stroke="#36a4c2" stroke-width="1.6"/>
<g stroke="#172e62" stroke-width="1">
<line x1="629" y1="427.5" x2="1113" y2="427.5"/>
<line x1="629" y1="462.5" x2="1113" y2="462.5" stroke-dasharray="2.5 2" stroke="#2a4a88"/>
<line x1="629" y1="499" x2="1113" y2="499" opacity="0.6"/>
<line x1="629" y1="539" x2="1113" y2="539" opacity="0.6"/>
</g>
<g stroke="#0e1d50" stroke-width="1">
<line x1="649" y1="428" x2="649" y2="584"/><line x1="696" y1="428" x2="696" y2="584"/><line x1="744" y1="428" x2="744" y2="584"/><line x1="792" y1="428" x2="792" y2="584"/><line x1="839.5" y1="428" x2="839.5" y2="584"/><line x1="887" y1="428" x2="887" y2="584"/><line x1="935" y1="428" x2="935" y2="584"/><line x1="984" y1="428" x2="984" y2="584"/><line x1="1032.5" y1="428" x2="1032.5" y2="584"/><line x1="1081" y1="428" x2="1081" y2="584"/>
</g>
<path d="M629.5,584 L629.5,516 L634,516 L634,488 L659,488 L659,485.5 L675,485.5 L675,479 L686,479 L686,487.5 L701,487.5 L701,497.5 L711,497.5 L711,487.5 L722,487.5 L722,477.5 L734,477.5 L734,474.5 L752.5,474.5 L752.5,494.5 L765,494.5 L765,509 L779,509 L779,527.5 L792,527.5 L792,524 L804,524 L804,516 L815,516 L815,507 L825,507 L825,495 L840,495 L840,510.5 L850,510.5 L850,507.5 L857.5,507.5 L857.5,501 L866,501 L866,481 L877.5,481 L877.5,462.5 L887.5,462.5 L887.5,437 L898,437 L898,462.5 L909,462.5 L909,479 L921,479 L921,496 L932.5,496 L932.5,512 L942.5,512 L942.5,520 L951,520 L951,525 L959,525 L959,529 L970,529 L970,506 L984,506 L984,500 L1009,500 L1009,492 L1019,492 L1019,470.5 L1035,470.5 L1035,484 L1050,484 L1050,465 L1069,465 L1069,481 L1082.5,481 L1082.5,451 L1096,451 L1096,439 L1108,439 L1108,584 Z" fill="#0a4082"/>
<line x1="640.0" y1="488.0" x2="640.0" y2="584" stroke="#07336e" stroke-width="3" opacity="0.55"/>
<line x1="651.4" y1="488.0" x2="651.4" y2="584" stroke="#07336e" stroke-width="3" opacity="0.55"/>
<line x1="662.8" y1="485.5" x2="662.8" y2="584" stroke="#07336e" stroke-width="3" opacity="0.55"/>
<line x1="674.2" y1="485.5" x2="674.2" y2="584" stroke="#07336e" stroke-width="3" opacity="0.55"/>
<line x1="685.6" y1="479.0" x2="685.6" y2="584" stroke="#07336e" stroke-width="3" opacity="0.55"/>
<line x1="697.0" y1="487.5" x2="697.0" y2="584" stroke="#07336e" stroke-width="3" opacity="0.55"/>
<line x1="708.4" y1="497.5" x2="708.4" y2="584" stroke="#07336e" stroke-width="3" opacity="0.55"/>
<line x1="719.8" y1="487.5" x2="719.8" y2="584" stroke="#07336e" stroke-width="3" opacity="0.55"/>
<line x1="731.2" y1="477.5" x2="731.2" y2="584" stroke="#07336e" stroke-width="3" opacity="0.55"/>
<line x1="742.6" y1="474.5" x2="742.6" y2="584" stroke="#07336e" stroke-width="3" opacity="0.55"/>
<line x1="754.0" y1="494.5" x2="754.0" y2="584" stroke="#07336e" stroke-width="3" opacity="0.55"/>
<line x1="765.4" y1="509.0" x2="765.4" y2="584" stroke="#07336e" stroke-width="3" opacity="0.55"/>
<line x1="776.8" y1="509.0" x2="776.8" y2="584" stroke="#07336e" stroke-width="3" opacity="0.55"/>
<line x1="788.2" y1="527.5" x2="788.2" y2="584" stroke="#07336e" stroke-width="3" opacity="0.55"/>
<line x1="799.6" y1="524.0" x2="799.6" y2="584" stroke="#07336e" stroke-width="3" opacity="0.55"/>
<line x1="811.0" y1="516.0" x2="811.0" y2="584" stroke="#07336e" stroke-width="3" opacity="0.55"/>
<line x1="822.4" y1="507.0" x2="822.4" y2="584" stroke="#07336e" stroke-width="3" opacity="0.55"/>
<line x1="833.8" y1="495.0" x2="833.8" y2="584" stroke="#07336e" stroke-width="3" opacity="0.55"/>
<line x1="845.2" y1="510.5" x2="845.2" y2="584" stroke="#07336e" stroke-width="3" opacity="0.55"/>
<line x1="856.6" y1="507.5" x2="856.6" y2="584" stroke="#07336e" stroke-width="3" opacity="0.55"/>
<line x1="868.0" y1="481.0" x2="868.0" y2="584" stroke="#07336e" stroke-width="3" opacity="0.55"/>
<line x1="879.4" y1="462.5" x2="879.4" y2="584" stroke="#07336e" stroke-width="3" opacity="0.55"/>
<line x1="890.8" y1="437.0" x2="890.8" y2="584" stroke="#07336e" stroke-width="3" opacity="0.55"/>
<line x1="902.2" y1="462.5" x2="902.2" y2="584" stroke="#07336e" stroke-width="3" opacity="0.55"/>
<line x1="913.6" y1="479.0" x2="913.6" y2="584" stroke="#07336e" stroke-width="3" opacity="0.55"/>
<line x1="925.0" y1="496.0" x2="925.0" y2="584" stroke="#07336e" stroke-width="3" opacity="0.55"/>
<line x1="936.4" y1="512.0" x2="936.4" y2="584" stroke="#07336e" stroke-width="3" opacity="0.55"/>
<line x1="947.8" y1="520.0" x2="947.8" y2="584" stroke="#07336e" stroke-width="3" opacity="0.55"/>
<line x1="959.2" y1="529.0" x2="959.2" y2="584" stroke="#07336e" stroke-width="3" opacity="0.55"/>
<line x1="970.6" y1="506.0" x2="970.6" y2="584" stroke="#07336e" stroke-width="3" opacity="0.55"/>
<line x1="982.0" y1="506.0" x2="982.0" y2="584" stroke="#07336e" stroke-width="3" opacity="0.55"/>
<line x1="993.4" y1="500.0" x2="993.4" y2="584" stroke="#07336e" stroke-width="3" opacity="0.55"/>
<line x1="1004.8" y1="500.0" x2="1004.8" y2="584" stroke="#07336e" stroke-width="3" opacity="0.55"/>
<line x1="1016.2" y1="492.0" x2="1016.2" y2="584" stroke="#07336e" stroke-width="3" opacity="0.55"/>
<line x1="1027.6" y1="470.5" x2="1027.6" y2="584" stroke="#07336e" stroke-width="3" opacity="0.55"/>
<line x1="1039.0" y1="484.0" x2="1039.0" y2="584" stroke="#07336e" stroke-width="3" opacity="0.55"/>
<line x1="1050.4" y1="465.0" x2="1050.4" y2="584" stroke="#07336e" stroke-width="3" opacity="0.55"/>
<line x1="1061.8" y1="465.0" x2="1061.8" y2="584" stroke="#07336e" stroke-width="3" opacity="0.55"/>
<line x1="1073.2" y1="481.0" x2="1073.2" y2="584" stroke="#07336e" stroke-width="3" opacity="0.55"/>
<line x1="1084.6" y1="451.0" x2="1084.6" y2="584" stroke="#07336e" stroke-width="3" opacity="0.55"/>
<line x1="1096.0" y1="451.0" x2="1096.0" y2="584" stroke="#07336e" stroke-width="3" opacity="0.55"/>
<line x1="1107.4" y1="439.0" x2="1107.4" y2="584" stroke="#07336e" stroke-width="3" opacity="0.55"/>
<path d="M629.5,516 L634,516 L634,488 L659,488 L659,485.5 L675,485.5 L675,479 L686,479 L686,487.5 L701,487.5 L701,497.5 L711,497.5 L711,487.5 L722,487.5 L722,477.5 L734,477.5 L734,474.5 L752.5,474.5 L752.5,494.5 L765,494.5 L765,509 L779,509 L779,527.5 L792,527.5 L792,524 L804,524 L804,516 L815,516 L815,507 L825,507 L825,495 L840,495 L840,510.5 L850,510.5 L850,507.5 L857.5,507.5 L857.5,501 L866,501 L866,481 L877.5,481 L877.5,462.5 L887.5,462.5 L887.5,437 L898,437 L898,462.5 L909,462.5 L909,479 L921,479 L921,496 L932.5,496 L932.5,512 L942.5,512 L942.5,520 L951,520 L951,525 L959,525 L959,529 L970,529 L970,506 L984,506 L984,500 L1009,500 L1009,492 L1019,492 L1019,470.5 L1035,470.5 L1035,484 L1050,484 L1050,465 L1069,465 L1069,481 L1082.5,481 L1082.5,451 L1096,451 L1096,439 L1108,439" fill="none" stroke="#2874ac" stroke-width="1.1"/>
<line x1="629" y1="584" x2="1108" y2="584" stroke="#3a6a9c" stroke-width="1.2"/>
<line x1="1113" y1="427.5" x2="1113" y2="579" stroke="#9ab8d8" stroke-width="1.2"/>
<text x="630.5" y="415.6" font-size="14.5" fill="#c8dcf0" textLength="72.5" lengthAdjust="spacingAndGlyphs" >FUr us 2041</text>

<line x1="93" y1="585" x2="93" y2="605" stroke="#2a3f7a" stroke-width="1" stroke-dasharray="2 2" opacity="0.7"/>
<line x1="142.5" y1="585" x2="142.5" y2="605" stroke="#2a3f7a" stroke-width="1" stroke-dasharray="2 2" opacity="0.7"/>
<line x1="191" y1="585" x2="191" y2="605" stroke="#2a3f7a" stroke-width="1" stroke-dasharray="2 2" opacity="0.7"/>
<line x1="241" y1="585" x2="241" y2="605" stroke="#2a3f7a" stroke-width="1" stroke-dasharray="2 2" opacity="0.7"/>
<line x1="287.5" y1="585" x2="287.5" y2="605" stroke="#2a3f7a" stroke-width="1" stroke-dasharray="2 2" opacity="0.7"/>
<line x1="338" y1="585" x2="338" y2="605" stroke="#2a3f7a" stroke-width="1" stroke-dasharray="2 2" opacity="0.7"/>
<line x1="384.5" y1="585" x2="384.5" y2="605" stroke="#2a3f7a" stroke-width="1" stroke-dasharray="2 2" opacity="0.7"/>
<line x1="433" y1="585" x2="433" y2="605" stroke="#2a3f7a" stroke-width="1" stroke-dasharray="2 2" opacity="0.7"/>
<line x1="483" y1="585" x2="483" y2="605" stroke="#2a3f7a" stroke-width="1" stroke-dasharray="2 2" opacity="0.7"/>
<line x1="531" y1="585" x2="531" y2="605" stroke="#2a3f7a" stroke-width="1" stroke-dasharray="2 2" opacity="0.7"/>
<line x1="580" y1="585" x2="580" y2="605" stroke="#2a3f7a" stroke-width="1" stroke-dasharray="2 2" opacity="0.7"/>
<line x1="649" y1="585" x2="649" y2="605" stroke="#2a3f7a" stroke-width="1" stroke-dasharray="2 2" opacity="0.7"/>
<line x1="696" y1="585" x2="696" y2="605" stroke="#2a3f7a" stroke-width="1" stroke-dasharray="2 2" opacity="0.7"/>
<line x1="744" y1="585" x2="744" y2="605" stroke="#2a3f7a" stroke-width="1" stroke-dasharray="2 2" opacity="0.7"/>
<line x1="792" y1="585" x2="792" y2="605" stroke="#2a3f7a" stroke-width="1" stroke-dasharray="2 2" opacity="0.7"/>
<line x1="840" y1="585" x2="840" y2="605" stroke="#2a3f7a" stroke-width="1" stroke-dasharray="2 2" opacity="0.7"/>
<line x1="887" y1="585" x2="887" y2="605" stroke="#2a3f7a" stroke-width="1" stroke-dasharray="2 2" opacity="0.7"/>
<line x1="935" y1="585" x2="935" y2="605" stroke="#2a3f7a" stroke-width="1" stroke-dasharray="2 2" opacity="0.7"/>
<line x1="984" y1="585" x2="984" y2="605" stroke="#2a3f7a" stroke-width="1" stroke-dasharray="2 2" opacity="0.7"/>
<line x1="1032.5" y1="585" x2="1032.5" y2="605" stroke="#2a3f7a" stroke-width="1" stroke-dasharray="2 2" opacity="0.7"/>
<line x1="1081" y1="585" x2="1081" y2="605" stroke="#2a3f7a" stroke-width="1" stroke-dasharray="2 2" opacity="0.7"/>
<line x1="155" y1="622" x2="155" y2="627" stroke="#4aa8c8" stroke-width="1.2"/>
<line x1="245.5" y1="622" x2="245.5" y2="627" stroke="#4aa8c8" stroke-width="1.2"/>
<line x1="338" y1="622" x2="338" y2="627" stroke="#4aa8c8" stroke-width="1.2"/>
<line x1="428" y1="622" x2="428" y2="627" stroke="#4aa8c8" stroke-width="1.2"/>
<line x1="519" y1="622" x2="519" y2="627" stroke="#4aa8c8" stroke-width="1.2"/>
<line x1="686" y1="622" x2="686" y2="627" stroke="#4aa8c8" stroke-width="1.2"/>
<line x1="772" y1="622" x2="772" y2="627" stroke="#4aa8c8" stroke-width="1.2"/>
<line x1="858" y1="622" x2="858" y2="627" stroke="#4aa8c8" stroke-width="1.2"/>
<line x1="943" y1="622" x2="943" y2="627" stroke="#4aa8c8" stroke-width="1.2"/>
<line x1="1030" y1="622" x2="1030" y2="627" stroke="#4aa8c8" stroke-width="1.2"/>
<line x1="1109" y1="427.5" x2="1113" y2="427.5" stroke="#9ab8d8" stroke-width="1.2"/>
<line x1="1109" y1="462.5" x2="1113" y2="462.5" stroke="#9ab8d8" stroke-width="1.2"/>
<line x1="1109" y1="500" x2="1113" y2="500" stroke="#9ab8d8" stroke-width="1.2"/>
<line x1="1109" y1="539" x2="1113" y2="539" stroke="#9ab8d8" stroke-width="1.2"/>
<line x1="1109" y1="579" x2="1113" y2="579" stroke="#9ab8d8" stroke-width="1.2"/>
<text x="48.6" y="176" font-size="14" fill="#d2e0f2" textLength="38.7" lengthAdjust="spacingAndGlyphs" >73,000</text>
<text x="48.6" y="215" font-size="14" fill="#d2e0f2" textLength="38.7" lengthAdjust="spacingAndGlyphs" >40.00</text>
<text x="48.6" y="254" font-size="14" fill="#d2e0f2" textLength="38.7" lengthAdjust="spacingAndGlyphs" >23.00</text>
<text x="48.6" y="293.5" font-size="14" fill="#d2e0f2" textLength="38.7" lengthAdjust="spacingAndGlyphs" >40.00</text>
<text x="48.6" y="333" font-size="14" fill="#d2e0f2" textLength="38.7" lengthAdjust="spacingAndGlyphs" >20.00</text>
<text x="1110.3" y="175.6" font-size="14" fill="#d2e0f2" textLength="50.7" lengthAdjust="spacingAndGlyphs" >54,0000</text>
<text x="1110.3" y="216.2" font-size="14" fill="#d2e0f2" textLength="50.7" lengthAdjust="spacingAndGlyphs" >47,0000</text>
<text x="1110.3" y="257.5" font-size="14" fill="#d2e0f2" textLength="50.7" lengthAdjust="spacingAndGlyphs" >47,5000</text>
<text x="1110.3" y="298.2" font-size="14" fill="#d2e0f2" textLength="50.7" lengthAdjust="spacingAndGlyphs" >3,6,1000</text>
<text x="1110.3" y="349.3" font-size="14" fill="#d2e0f2" textLength="50.7" lengthAdjust="spacingAndGlyphs" >10,0000</text>
<text x="93" y="603.6" font-size="12.5" fill="#c4d6ee" text-anchor="middle" >81</text>
<text x="240" y="603.6" font-size="12.5" fill="#c4d6ee" text-anchor="middle" >128</text>
<text x="384.5" y="603.6" font-size="12.5" fill="#c4d6ee" text-anchor="middle" >81</text>
<text x="483" y="603.6" font-size="12.5" fill="#c4d6ee" text-anchor="middle" >38</text>
<text x="580" y="603.6" font-size="12.5" fill="#c4d6ee" text-anchor="middle" >120</text>
<text x="154" y="644.5" font-size="14" fill="#d0def2" text-anchor="middle" >2.0P</text>
<text x="244" y="644.5" font-size="14" fill="#d0def2" text-anchor="middle" >2.15</text>
<text x="338" y="644.5" font-size="14" fill="#d0def2" text-anchor="middle" >250</text>
<text x="428" y="644.5" font-size="14" fill="#d0def2" text-anchor="middle" >1.59</text>
<text x="519" y="644.5" font-size="14" fill="#d0def2" text-anchor="middle" >2:00</text>
<text x="647.5" y="603.6" font-size="12.5" fill="#c4d6ee" text-anchor="middle" >U0</text>
<text x="744" y="603.6" font-size="12.5" fill="#c4d6ee" text-anchor="middle" >31</text>
<text x="840.5" y="603.6" font-size="12.5" fill="#c4d6ee" text-anchor="middle" >25</text>
<text x="935.5" y="603.6" font-size="12.5" fill="#c4d6ee" text-anchor="middle" >38</text>
<text x="1032.5" y="603.6" font-size="12.5" fill="#c4d6ee" text-anchor="middle" >91</text>
<text x="686" y="644.5" font-size="14" fill="#d0def2" text-anchor="middle" >12.10</text>
<text x="772" y="644.5" font-size="14" fill="#d0def2" text-anchor="middle" >AUP</text>
<text x="857.5" y="644.5" font-size="14" fill="#d0def2" text-anchor="middle" >2.00</text>
<text x="942.5" y="644.5" font-size="14" fill="#d0def2" text-anchor="middle" >21.9</text>
<text x="1029.5" y="644.5" font-size="14" fill="#d0def2" text-anchor="middle" >1,117</text>
<text x="1120" y="434.6" font-size="14" fill="#d2e0f2" textLength="40.5" lengthAdjust="spacingAndGlyphs" >6,0900</text>
<text x="1120" y="466.8" font-size="14" fill="#d2e0f2" textLength="40.5" lengthAdjust="spacingAndGlyphs" >6,2000</text>
<text x="1120" y="504.8" font-size="14" fill="#d2e0f2" textLength="40.5" lengthAdjust="spacingAndGlyphs" >85000</text>
<text x="1120" y="544.3" font-size="14" fill="#d2e0f2" textLength="40.5" lengthAdjust="spacingAndGlyphs" >3,5000</text>
<text x="1120" y="583.8" font-size="14" fill="#d2e0f2" textLength="40.5" lengthAdjust="spacingAndGlyphs" >53700</text>
</svg>
</body></html>
